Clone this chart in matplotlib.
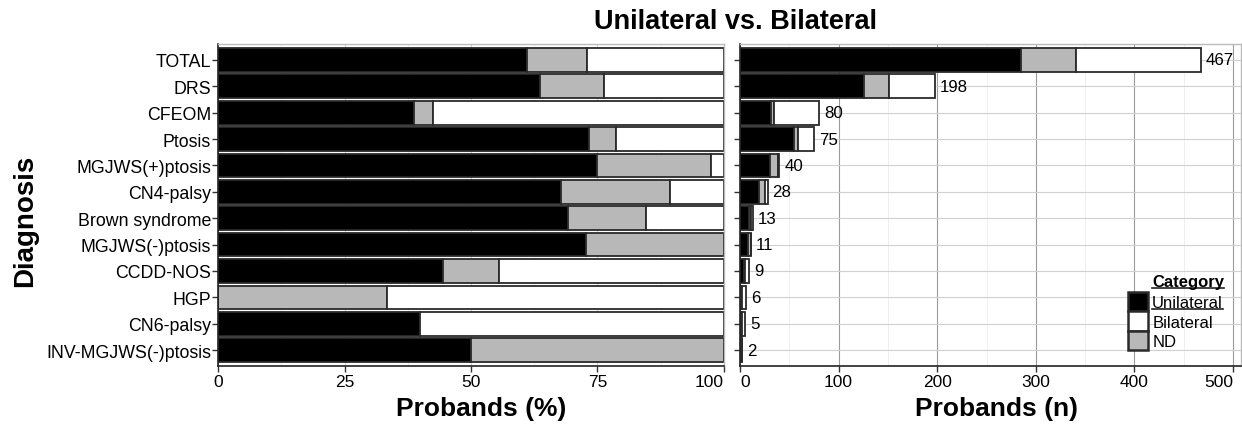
import numpy as np
import matplotlib
matplotlib.use('Agg')
from matplotlib import pyplot as plt
from matplotlib.patches import Patch
from matplotlib.lines import Line2D

plt.rcParams['font.family'] = ['Liberation Sans', 'DejaVu Sans']

# data (probands per diagnosis)
diagnosis = ['TOTAL', 'DRS', 'CFEOM', 'Ptosis', 'MGJWS(+)ptosis', 'CN4-palsy',
             'Brown syndrome', 'MGJWS(-)ptosis', 'CCDD-NOS', 'HGP', 'CN6-palsy',
             'INV-MGJWS(-)ptosis']
unilateral = [285, 126, 31, 55, 30, 19, 9, 8, 4, 0, 2, 1]
nd = [56, 25, 3, 4, 9, 6, 2, 3, 1, 2, 0, 1]
bilateral = [126, 47, 46, 16, 1, 3, 2, 0, 4, 4, 3, 0]

uni = np.array(unilateral, dtype=float)
ndv = np.array(nd, dtype=float)
bil = np.array(bilateral, dtype=float)
tot = uni + ndv + bil
y = np.arange(len(diagnosis))

c_uni = 'black'
c_nd = '#b8b8b8'
c_bil = 'white'
edge = '#2a2a2a'

W, H = 1242, 427
fig = plt.figure(figsize=(W / 100, H / 100), dpi=100)
ax1 = fig.add_axes([218 / W, (H - 367) / H, (724 - 218) / W, (367 - 45) / H])
ax2 = fig.add_axes([740 / W, (H - 367) / H, (1241 - 740) / W, (367 - 45) / H])

def style(ax):
    ax.set_ylim(len(diagnosis) - 0.4, -0.6)
    ax.set_yticks(y)
    ax.set_axisbelow(True)
    for s in ['top', 'right']:
        ax.spines[s].set_color('#bbbbbb')
        ax.spines[s].set_linewidth(1)
    for s in ['left', 'bottom']:
        ax.spines[s].set_color('#222222')
        ax.spines[s].set_linewidth(1.2)
    ax.tick_params(axis='y', length=4, width=1, color='#333333',
                   labelsize=12.8, pad=1)
    ax.tick_params(axis='x', length=4, width=1, color='#333333',
                   labelsize=12.5, pad=2)
    ax.grid(True, which='major', color='#d0d0d0', linewidth=0.8)
    ax.grid(True, which='minor', axis='x', color='#ececec', linewidth=0.6)

# left panel: percentages
p_uni = uni / tot * 100
p_nd = ndv / tot * 100
p_bil = bil / tot * 100
h = 0.9
ax1.barh(y, p_uni, height=h, color=c_uni, edgecolor=edge, linewidth=1.3)
ax1.barh(y, p_nd, left=p_uni, height=h, color=c_nd, edgecolor=edge, linewidth=1.3)
ax1.barh(y, p_bil, left=p_uni + p_nd, height=h, color=c_bil, edgecolor=edge, linewidth=1.3)
style(ax1)
ax1.set_xlim(0, 100)
ax1.set_xticks([0, 25, 50, 75, 100])
ax1.set_xticks([12.5, 37.5, 62.5, 87.5], minor=True)
ax1.tick_params(axis='x', which='minor', length=0)
ax1.set_yticklabels(diagnosis)
ax1.set_xlabel('Probands (%)', fontsize=19, fontweight='bold')
ax1.xaxis.set_label_coords(0.52, -0.093)

# right panel: counts
ax2.barh(y, uni, height=h, color=c_uni, edgecolor=edge, linewidth=1.3)
ax2.barh(y, ndv, left=uni, height=h, color=c_nd, edgecolor=edge, linewidth=1.3)
ax2.barh(y, bil, left=uni + ndv, height=h, color=c_bil, edgecolor=edge, linewidth=1.3)
style(ax2)
ax2.grid(True, which='major', axis='x', color='#9a9a9a', linewidth=0.8)
ax2.set_xlim(0, 508)
ax2.set_xticks([0, 100, 200, 300, 400, 500])
ax2.set_xticks([50, 150, 250, 350, 450], minor=True)
ax2.tick_params(axis='x', which='minor', length=0)
ax2.set_yticklabels([])
for yi, t in zip(y, tot):
    ax2.text(t + 5, yi, '%d' % t, va='center', ha='left', fontsize=12.2)
ax2.set_xlabel('Probands (n)', fontsize=19, fontweight='bold')
ax2.xaxis.set_label_coords(0.512, -0.093)

# end labels are pulled inside their panels, as in the reference
ax1.get_xticklabels()[-1].set_ha('right')
ax2.get_xticklabels()[0].set_ha('left')
ax2.get_xticklabels()[-1].set_ha('right')

handles = [Patch(facecolor=c_uni, edgecolor=edge, linewidth=1.8, label='Unilateral'),
           Patch(facecolor=c_bil, edgecolor=edge, linewidth=1.8, label='Bilateral'),
           Patch(facecolor=c_nd, edgecolor=edge, linewidth=1.8, label='ND')]
leg = ax2.legend(handles=handles, loc='lower left',
                 bbox_to_anchor=((1128 - 740) / 501, 0.05), frameon=False, fontsize=12,
                 handlelength=1.2, handleheight=1.4, labelspacing=0.0,
                 handletextpad=0.25, borderpad=0.0, borderaxespad=0.0)

fig.text(736 / W, 1 - 22 / H, 'Unilateral vs. Bilateral', ha='center', va='center',
         fontsize=19.5, fontweight='bold')
fig.text(25 / W, 1 - 221 / H, 'Diagnosis', ha='center', va='center', rotation=90,
         fontsize=20, fontweight='bold')

# legend title above the labels, underlined like the reference
fig.canvas.draw()
inv = fig.transFigure.inverted()
bb0 = leg.get_texts()[0].get_window_extent()
(lx0, ly0), (lx1, ly1) = inv.transform([[bb0.x0, bb0.y0], [bb0.x1, bb0.y1]])
title = fig.text(lx0, ly1 + 0.014, 'Category', ha='left', va='bottom',
                 fontsize=12, fontweight='bold')
fig.canvas.draw()
for t in [title, leg.get_texts()[0]]:
    bb = t.get_window_extent()
    (x0, y0), (x1, y1) = inv.transform([[bb.x0, bb.y0], [bb.x1, bb.y1]])
    fig.add_artist(Line2D([x0, x1], [y0 + 0.003, y0 + 0.003], transform=fig.transFigure,
                          color='#222222', linewidth=1.2))

fig.savefig('out.png', dpi=100)
